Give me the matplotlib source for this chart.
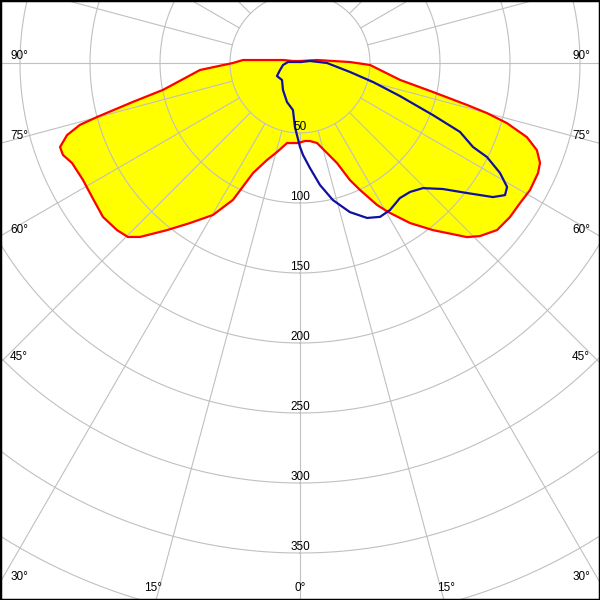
import numpy as np
import matplotlib
matplotlib.use('Agg')
import matplotlib.pyplot as plt
from matplotlib.patches import Rectangle

# gamma angle (deg, 0 = straight down, + to the right) and intensity (cd/klm)
red_gamma = [-180, -105.9, -100.0, -94.6, -93.0, -90.0, -86.0, -78.9, -76.9, -75.1,
             -74.3, -72.8, -70.7, -68.8, -66.3, -61.7, -57.2, -52.0, -47.6, -44.7,
             -42.6, -38.5, -34.5, -29.8, -26.1, -23.1, -18.8, -14.5, -9.2, -1.4,
             3.7, 7.3, 12.0, 16.7, 20.3, 23.1, 25.3, 28.5, 30.6, 34.5,
             38.5, 43.8, 46.1, 49.7, 53.7, 57.5, 61.1, 65.2, 67.4, 69.8,
             71.9, 73.8, 75.0, 75.9, 77.7, 80.4, 88.4, 91.1, 100.0, 180]
red_cd = [1.4, 5.2, 12.3, 26.5, 40.8, 47.9, 71.6, 99.7, 122.5, 150.0,
          163.3, 174.2, 181.6, 181.6, 177.8, 176.1, 176.7, 178.6, 177.0, 174.8,
          168.8, 152.5, 138.7, 125.1, 108.9, 85.4, 73.2, 65.7, 57.9, 57.2,
          55.8, 56.2, 58.4, 67.1, 76.2, 90.9, 100.3, 115.4, 123.6, 138.7,
          152.5, 172.3, 178.3, 184.5, 186.0, 186.3, 187.7, 187.3, 185.7, 180.3,
          170.5, 153.9, 138.3, 123.0, 97.2, 72.5, 50.0, 35.7, 12.3, 1.4]

blue_gamma = [-135, -94.8, -83.3, -70.7, -60.5, -46.6, -32.2, -18.4, -8.5, -4.5,
              0.0, 1.9, 5.4, 9.3, 13.5, 18.5, 23.4, 27.5, 31.5, 36.5,
              40.5, 44.5, 48.6, 52.1, 55.2, 57.2, 59.1, 61.2, 63.3, 64.1,
              66.7, 68.6, 71.7, 75.4, 79.8, 90.0, 101.3, 135]
blue_cd = [1.0, 8.6, 12.2, 15.1, 18.9, 17.7, 22.8, 29.4, 34.0, 45.9,
           60.0, 65.8, 75.3, 88.3, 100.7, 112.3, 120.6, 123.9, 123.1, 120.0,
           121.1, 125.3, 136.1, 151.2, 167.8, 174.2, 172.4, 163.0, 149.5, 137.4,
           124.4, 102.0, 75.2, 53.9, 36.3, 19.3, 7.3, 1.0]

rings = [50, 100, 150, 200, 250, 300, 350, 400, 450]
ring_labels = [50, 100, 150, 200, 250, 300, 350]
spokes = np.arange(0, 360, 15)

# angle labels on the picture border: (text, x px, y px)
edge_labels = [('90°', 19, 56), ('75°', 19, 136), ('60°', 19, 230), ('45°', 19, 357), ('30°', 19, 577),
               ('90°', 581, 56), ('75°', 581, 136), ('60°', 581, 230), ('45°', 581, 357), ('30°', 581, 577),
               ('15°', 153, 588), ('0°', 300, 588), ('15°', 446, 588)]

rmax = 450
px_per_unit = 1.4
W = 600
cx, cy = 300, 63

fig = plt.figure(figsize=(6, 6), dpi=100, facecolor='white')
half = rmax * px_per_unit / W
ax = fig.add_axes([cx / W - half, 1 - cy / W - half, 2 * half, 2 * half], projection='polar')
ax.set_theta_zero_location('S')
ax.set_theta_direction(1)
ax.set_ylim(0, rmax)
ax.set_axis_off()

th_red = np.radians(red_gamma)
th_blue = np.radians(blue_gamma)

ax.fill(th_red, red_cd, color='#ffff00', zorder=1)

grid_kw = dict(color='#c0c0c0', lw=0.8, zorder=2)
circ = np.linspace(0, 2 * np.pi, 721)
for r in rings:
    ax.plot(circ, np.full_like(circ, r), **grid_kw)
for a in spokes:
    ax.plot([np.radians(a)] * 2, [50, rmax], **grid_kw)

ax.plot(th_red, red_cd, color='#ff0000', lw=1.6, zorder=3, solid_joinstyle='round')
ax.plot(th_blue, blue_cd, color='#1010a0', lw=1.6, zorder=4, solid_joinstyle='round')

font = dict(family=['Liberation Sans', 'DejaVu Sans'], fontsize=8.5, color='black')
for r in ring_labels:
    ax.text(0, r - 4.5, str(r), ha='center', va='center', zorder=5, **font)

for txt, x, y in edge_labels:
    fig.text(x / W, 1 - y / W, txt, ha='center', va='center', **font)

fig.patches.append(Rectangle((0, 0), 1, 1, transform=fig.transFigure, fill=False,
                             edgecolor='black', lw=2.5, zorder=10))

fig.savefig('out.png', dpi=100, facecolor='white')
